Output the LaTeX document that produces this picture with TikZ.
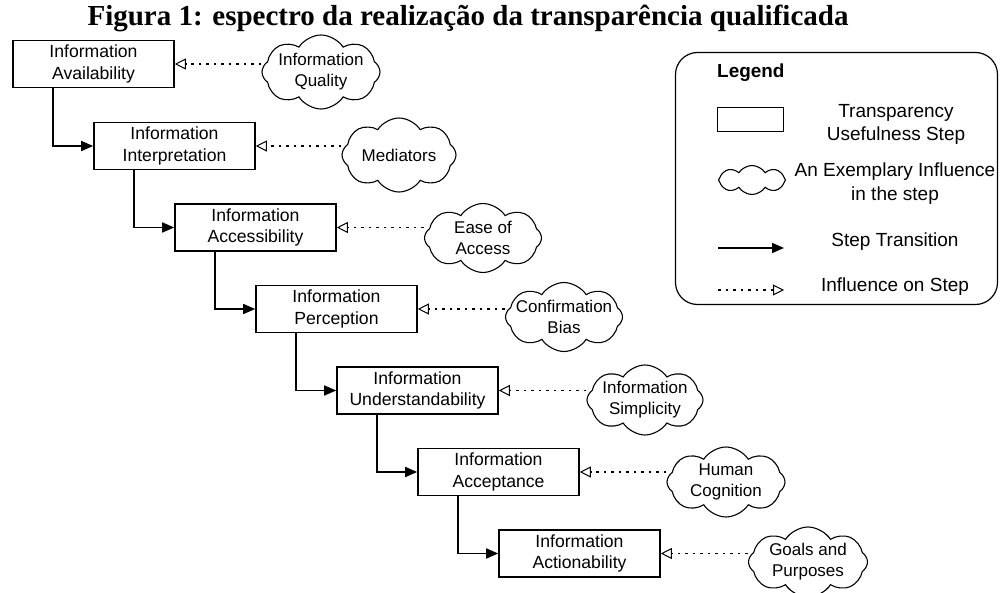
\documentclass[tikz,border=0pt]{standalone}
\usepackage{fontspec}
\setmainfont{Liberation Serif}
\newfontfamily\diag{Liberation Sans}
\usetikzlibrary{shapes.symbols,arrows.meta,calc}
\tikzset{
  stepbox/.style={draw, line width=1.6pt, minimum width=161pt, minimum height=47pt, inner sep=0pt, align=center, font=\diag\fontsize{17.6}{21.5}\selectfont},
  cloudbox/.style={draw, line width=1.1pt, cloud, cloud puffs=8, cloud puff arc=115, cloud ignores aspect, inner sep=0pt},
  cloudtxt/.style={align=center, inner sep=0pt, font=\diag\fontsize{17}{21}\selectfont},
  legtxt/.style={align=center, inner sep=0pt, font=\diag\fontsize{19}{23.5}\selectfont},
  trans/.style={line width=1.6pt, -{Triangle[length=12pt,width=10pt]}},
  infl/.style={line width=1.2pt, dash pattern=on 2.5pt off 5pt, -{Triangle[open,length=11pt,width=11pt,line width=1pt]}},
}
\begin{document}
\begin{tikzpicture}[x=1pt,y=-1pt]
\useasboundingbox (0,0) rectangle (1001,593);
\node[inner sep=0pt, font=\bfseries\fontsize{29}{33}\selectfont] (title) at (468,18) {Figura 1: espectro da realização da transparência qualificada};
% steps
\node[stepbox] (b1) at (93.5,64) {Information\\Availability};
\node[stepbox] (b2) at (174.5,146) {Information\\Interpretation};
\node[stepbox] (b3) at (255.5,227.5) {Information\\Accessibility};
\node[stepbox] (b4) at (336.5,309) {Information\\Perception};
\node[stepbox] (b5) at (417.5,390.5) {Information\\Understandability};
\node[stepbox] (b6) at (498.5,472) {Information\\Acceptance};
\node[stepbox] (b7) at (579.5,553.5) {Information\\Actionability};
% clouds
\node[cloudbox, minimum width=118pt, minimum height=74pt] (c1) at (321,72) {};
\node[cloudtxt] (c1t) at (c1) {Information\\Quality};
\node[cloudbox, minimum width=114pt, minimum height=74pt] (c2) at (399,155) {};
\node[cloudtxt] (c2t) at (c2) {Mediators};
\node[cloudbox, minimum width=117pt, minimum height=69pt] (c3) at (483,238) {};
\node[cloudtxt] (c3t) at (c3) {Ease of\\Access};
\node[cloudbox, minimum width=117pt, minimum height=69pt] (c4) at (564,317) {};
\node[cloudtxt] (c4t) at (c4) {Confirmation\\Bias};
\node[cloudbox, minimum width=116pt, minimum height=70pt] (c5) at (645,400) {};
\node[cloudtxt] (c5t) at (c5) {Information\\Simplicity};
\node[cloudbox, minimum width=118pt, minimum height=70pt] (c6) at (726,482) {};
\node[cloudtxt] (c6t) at (c6) {Human\\Cognition};
\node[cloudbox, minimum width=119pt, minimum height=70pt] (c7) at (808,562) {};
\node[cloudtxt] (c7t) at (c7) {Goals and\\Purposes};
% transitions
\draw[trans] ($(b1.south west)+(41,0)$) |- (b2.west);
\draw[trans] ($(b2.south west)+(41,0)$) |- (b3.west);
\draw[trans] ($(b3.south west)+(41,0)$) |- (b4.west);
\draw[trans] ($(b4.south west)+(41,0)$) |- (b5.west);
\draw[trans] ($(b5.south west)+(41,0)$) |- (b6.west);
\draw[trans] ($(b6.south west)+(41,0)$) |- (b7.west);
% influences
\draw[infl] (c1.west |- b1.east) -- (b1.east);
\draw[infl] (c2.west |- b2.east) -- (b2.east);
\draw[infl] (c3.west |- b3.east) -- (b3.east);
\draw[infl] (c4.west |- b4.east) -- (b4.east);
\draw[infl] (c5.west |- b5.east) -- (b5.east);
\draw[infl] (c6.west |- b6.east) -- (b6.east);
\draw[infl] (c7.west |- b7.east) -- (b7.east);
% legend
\node[draw, line width=1.2pt, rounded corners=22pt, minimum width=322pt, minimum height=252pt, inner sep=0pt] (leg) at (836.5,178.5) {};
\node[anchor=west, inner sep=0pt, font=\diag\bfseries\fontsize{18.9}{22}\selectfont] (legt) at (717,73) {Legend};
\node[draw, line width=1.6pt, minimum width=66pt, minimum height=24pt, inner sep=0pt] (lrect) at (750.5,119.5) {};
\node[legtxt] (lrectt) at (896,124.5) {Transparency\\Usefulness Step};
\node[cloudbox, minimum width=67pt, minimum height=29pt] (lcloud) at (752,180) {};
\node[legtxt] (lcloudt) at (895,183.5) {An Exemplary Influence\\in the step};
\coordinate (la1) at (718,248);
\coordinate (la2) at (784,248);
\draw[trans] (la1) -- (la2);
\node[legtxt] (lat) at (895,242) {Step Transition};
\coordinate (li1) at (718,290);
\coordinate (li2) at (784,290);
\draw[infl] (li1) -- (li2);
\node[legtxt] (lit) at (895,287) {Influence on Step};
\end{tikzpicture}
\end{document}
